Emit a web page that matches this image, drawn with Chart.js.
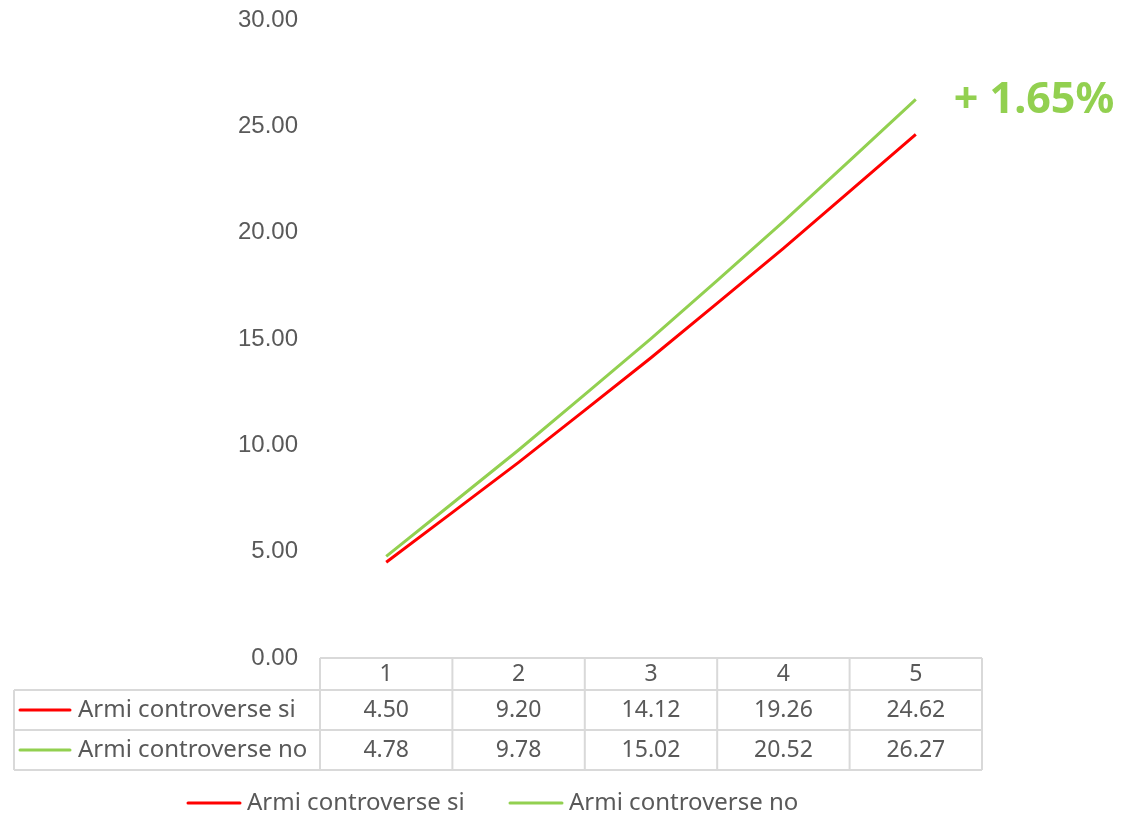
<!DOCTYPE html>
<html>
<head>
<meta charset="utf-8">
<script src="https://cdn.jsdelivr.net/npm/chart.js@4/dist/chart.umd.min.js"></script>
<style>
  html, body { margin: 0; padding: 0; background: #fff; }
  #wrap { width: 1123px; height: 816px; position: relative; }
</style>
</head>
<body>
<div id="wrap"><canvas id="myChart"></canvas></div>
<script>
const categories = ['1', '2', '3', '4', '5'];
const seriesNames = ['Armi controverse si', 'Armi controverse no'];
const armiSi = [4.50, 9.20, 14.12, 19.26, 24.62];
const armiNo = [4.78, 9.78, 15.02, 20.52, 26.27];
const yTicks = [0, 5, 10, 15, 20, 25, 30];
const annotationText = '+ 1.65%';

const RED = '#FF0000';
const GREEN = '#92D050';
const TEXT = '#595959';
const BORDER = '#D9D9D9';
const TABLE_FONT = '"Noto Sans", sans-serif';

// data table + bottom legend + annotation drawn under the plot
const tablePlugin = {
  id: 'dataTable',
  afterDraw(chart) {
    const ctx = chart.ctx;
    const x = chart.scales.x;
    const area = chart.chartArea;
    const sets = chart.data.datasets;
    const colW = (area.right - area.left) / categories.length;
    const rowTop = [area.bottom, area.bottom + 32, area.bottom + 72];
    const rowBot = [area.bottom + 32, area.bottom + 72, area.bottom + 112];
    const labelLeft = 14;

    ctx.save();
    ctx.strokeStyle = BORDER;
    ctx.lineWidth = 2;
    ctx.beginPath();
    ctx.moveTo(area.left, rowTop[0]); ctx.lineTo(area.right, rowTop[0]);
    ctx.moveTo(labelLeft, rowTop[1]); ctx.lineTo(area.right, rowTop[1]);
    ctx.moveTo(labelLeft, rowTop[2]); ctx.lineTo(area.right, rowTop[2]);
    ctx.moveTo(labelLeft, rowBot[2]); ctx.lineTo(area.right, rowBot[2]);
    ctx.moveTo(labelLeft, rowTop[1]); ctx.lineTo(labelLeft, rowBot[2]);
    for (let i = 0; i <= categories.length; i++) {
      const cx = area.left + i * colW;
      ctx.moveTo(cx, rowTop[0]); ctx.lineTo(cx, rowBot[2]);
    }
    ctx.stroke();

    ctx.fillStyle = TEXT;
    ctx.font = '23px ' + TABLE_FONT;
    ctx.textAlign = 'center';
    ctx.textBaseline = 'middle';
    categories.forEach((c, i) => {
      const cx = x.getPixelForValue(i);
      ctx.fillText(c, cx, (rowTop[0] + rowBot[0]) / 2);
      sets.forEach((ds, j) => {
        ctx.fillText(ds.data[i].toFixed(2), cx, (rowTop[j + 1] + rowBot[j + 1]) / 2);
      });
    });

    // series labels with line keys
    ctx.font = '24px ' + TABLE_FONT;
    sets.forEach((ds, j) => {
      const cy = (rowTop[j + 1] + rowBot[j + 1]) / 2;
      ctx.strokeStyle = ds.borderColor;
      ctx.lineWidth = 3;
      ctx.lineCap = 'round';
      ctx.beginPath();
      ctx.moveTo(20, cy); ctx.lineTo(70, cy);
      ctx.stroke();
      ctx.textAlign = 'left';
      ctx.fillText(ds.label, 78, cy);
    });

    // bottom legend
    const ly = 803;
    const legendX = [188, 510];
    sets.forEach((ds, j) => {
      ctx.strokeStyle = ds.borderColor;
      ctx.lineWidth = 3;
      ctx.beginPath();
      ctx.moveTo(legendX[j], ly); ctx.lineTo(legendX[j] + 52, ly);
      ctx.stroke();
      ctx.textAlign = 'left';
      ctx.fillText(ds.label, legendX[j] + 59, ly);
    });

    // annotation next to last point
    const last = chart.getDatasetMeta(1).data[categories.length - 1];
    ctx.fillStyle = GREEN;
    ctx.font = 'bold 43px ' + TABLE_FONT;
    ctx.textAlign = 'left';
    ctx.fillText(annotationText, last.x + 38, last.y + 1);
    ctx.restore();
  }
};

new Chart('myChart', {
  type: 'line',
  data: {
    labels: categories,
    datasets: [
      { label: seriesNames[0], data: armiSi, borderColor: RED, backgroundColor: RED },
      { label: seriesNames[1], data: armiNo, borderColor: GREEN, backgroundColor: GREEN },
    ],
  },
  options: {
    responsive: true,
    maintainAspectRatio: false,
    animation: false,
    devicePixelRatio: 1,
    layout: { padding: { top: 20, right: 141, bottom: 150, left: 0 } },
    elements: {
      line: { borderWidth: 3, tension: 0.15, fill: false },
      point: { radius: 0, hoverRadius: 0 },
    },
    plugins: {
      legend: { display: false },
      tooltip: { enabled: false },
    },
    scales: {
      x: {
        offset: true,
        grid: { display: false },
        border: { display: false },
        ticks: { display: false },
      },
      y: {
        min: 0,
        max: 30,
        afterBuildTicks(scale) {
          scale.ticks = yTicks.map(v => ({ value: v }));
        },
        afterFit(scale) {
          scale.width = 320;
          scale.paddingTop = 0;
          scale.paddingBottom = 0;
        },
        grid: { display: false },
        border: { display: false },
        ticks: {
          padding: 14,
          color: TEXT,
          font: { family: '"Liberation Sans", Arial, sans-serif', size: 24 },
          callback: v => Number(v).toFixed(2),
        },
      },
    },
  },
  plugins: [tablePlugin],
});
</script>
</body>
</html>
